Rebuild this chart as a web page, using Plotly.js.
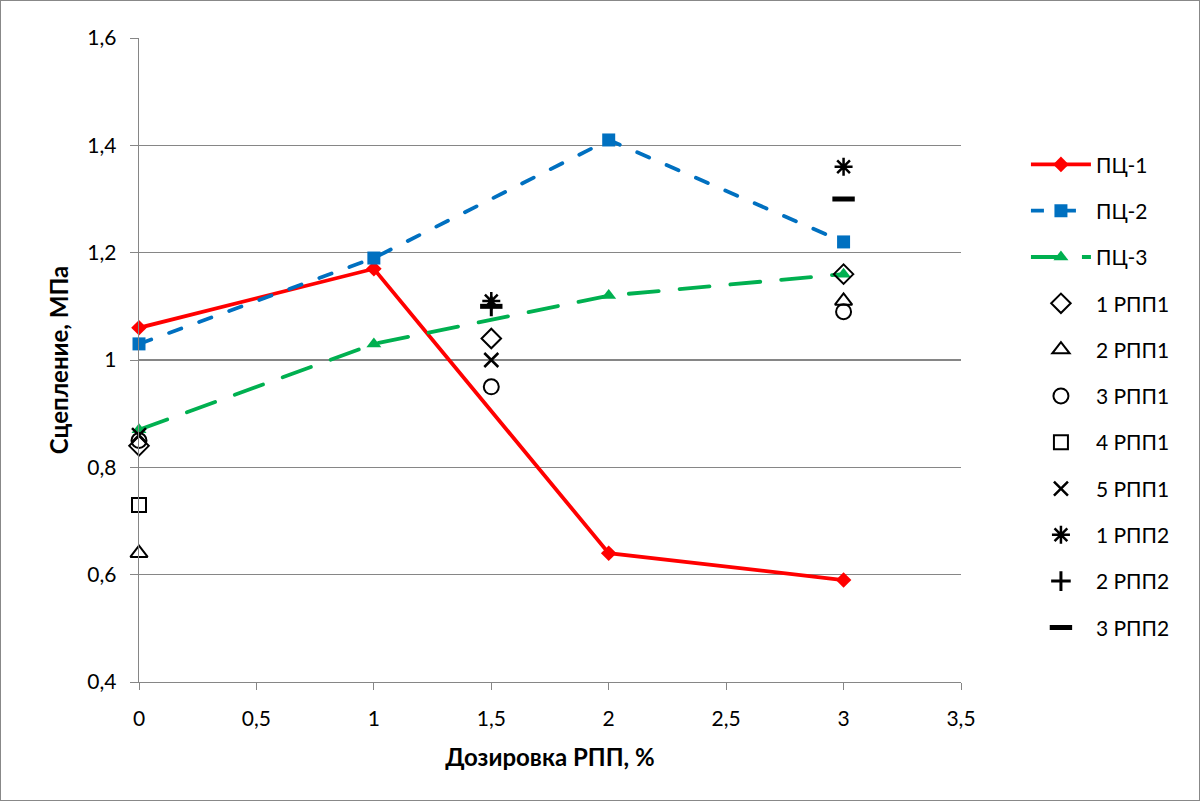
<!DOCTYPE html>
<html><head><meta charset="utf-8">
<script src="https://cdn.plot.ly/plotly-3.0.1.min.js"></script>
<style>html,body{margin:0;padding:0;background:#fff;}
#wrap{position:absolute;left:0;top:0;width:1198px;height:799px;border:1px solid #888;}
#chart{width:1198px;height:799px;}
.scatterlayer .js-line{stroke-linecap:round;}</style>
</head><body><div id="wrap"><div id="chart"></div></div>
<script>
var dosage = [0, 1, 2, 3];
var pc1 = [1.06, 1.17, 0.64, 0.59];
var pc2 = [1.03, 1.19, 1.41, 1.22];
var pc3 = [0.87, 1.03, 1.12, 1.16];

var rpp1_1_x = [0, 1.5, 3], rpp1_1_y = [0.84, 1.04, 1.16];
var rpp1_2_x = [0, 3],      rpp1_2_y = [0.64, 1.11];
var rpp1_3_x = [0, 1.5, 3], rpp1_3_y = [0.85, 0.95, 1.09];
var rpp1_4_x = [0],         rpp1_4_y = [0.73];
var rpp1_5_x = [0, 1.5],    rpp1_5_y = [0.86, 1.00];
var rpp2_1_x = [1.5, 3],    rpp2_1_y = [1.11, 1.36];
var rpp2_2_x = [1.5],       rpp2_2_y = [1.10];
var rpp2_3_x = [1.5, 3],    rpp2_3_y = [1.10, 1.30];

var xTicks = [0, 0.5, 1, 1.5, 2, 2.5, 3, 3.5];
var yTicks = [0.4, 0.6, 0.8, 1.0, 1.2, 1.4, 1.6];

var traces = [];
var g = 0;
function line(name, y, color, dash, sym, size){
  traces.push({x: dosage, y: y, name: name, type:'scatter', mode:'lines+markers', legendgroup:'g'+(g++), cliponaxis:false,
    line:{color:color, width:3.8, dash:dash}, marker:{symbol:sym, size:size, color:color}});
}
line('ПЦ-1', pc1, '#ff0000', 'solid', 'diamond', 12);
line('ПЦ-2', pc2, '#0070c0', '13px,19px', 'square', 13);
line('ПЦ-3', pc3, '#00b050', '30px,21px', 'triangle-up', 13);

function pts(name, xs, ys, sym, size, w){
  traces.push({x: xs, y: ys, name: name, type:'scatter', mode:'markers', legendgroup:'g'+(g++), cliponaxis:false,
    marker:{symbol:sym, size:size, color:'#000', line:{color:'#000', width:w}}});
}
pts('1 РПП1', rpp1_1_x, rpp1_1_y, 'diamond-open', 15, 2);
pts('2 РПП1', rpp1_2_x, rpp1_2_y, 'triangle-up-open', 15, 2);
pts('3 РПП1', rpp1_3_x, rpp1_3_y, 'circle-open', 15, 2);
pts('4 РПП1', rpp1_4_x, rpp1_4_y, 'square-open', 14, 2);
pts('5 РПП1', rpp1_5_x, rpp1_5_y, 'x-thin-open', 14, 2.5);
pts('1 РПП2', rpp2_1_x, rpp2_1_y, 'asterisk-open', 15, 2.5);
pts('2 РПП2', rpp2_2_x, rpp2_2_y, 'cross-thin-open', 14, 3);
pts('3 РПП2', rpp2_3_x, rpp2_3_y, 'line-ew-open', 16, 5);

var layout = {
  width: 1198, height: 799,
  margin: {l:138, r:238, t:37, b:118},
  separators: ', ',
  paper_bgcolor:'#fff', plot_bgcolor:'#fff',
  font: {family:'Lato, "Open Sans", sans-serif', size:21, color:'#000'},
  showlegend: true,
  legend: {x: 1.079, xanchor:'left', xref:'paper', y: 0.835, yanchor:'top', font:{size:21}, tracegroupgap: 16, itemwidth: 60, bgcolor:'rgba(0,0,0,0)'},
  xaxis: {range:[0, 3.5], tickvals: xTicks, ticktext: xTicks.map(function(v){return String(v).replace('.', ',');}),
    showgrid:false, zeroline:false, showline:true, linecolor:'#868686', linewidth:1.3,
    ticks:'outside', ticklen:7, tickcolor:'#868686', tickfont:{size:21}, ticklabelstandoff: 10,
    title:{text:'<b>Дозировка РПП, %</b>', font:{size:24}, standoff: 20}},
  yaxis: {range:[0.4, 1.6], tickvals: yTicks, ticktext: yTicks.map(function(v){return String(v).replace('.', ',');}),
    showgrid:true, gridcolor:'#868686', gridwidth:1.3, zeroline:false, showline:true, linecolor:'#868686', linewidth:1.3,
    ticks:'outside', ticklen:8, tickcolor:'#868686', tickfont:{size:21}, ticklabelstandoff: 9,
    title:{text:'<b>Сцепление, МПа</b>', font:{size:24}, standoff: 12}}
};
Plotly.newPlot('chart', traces, layout, {displayModeBar:false, staticPlot:true});
</script></body></html>
